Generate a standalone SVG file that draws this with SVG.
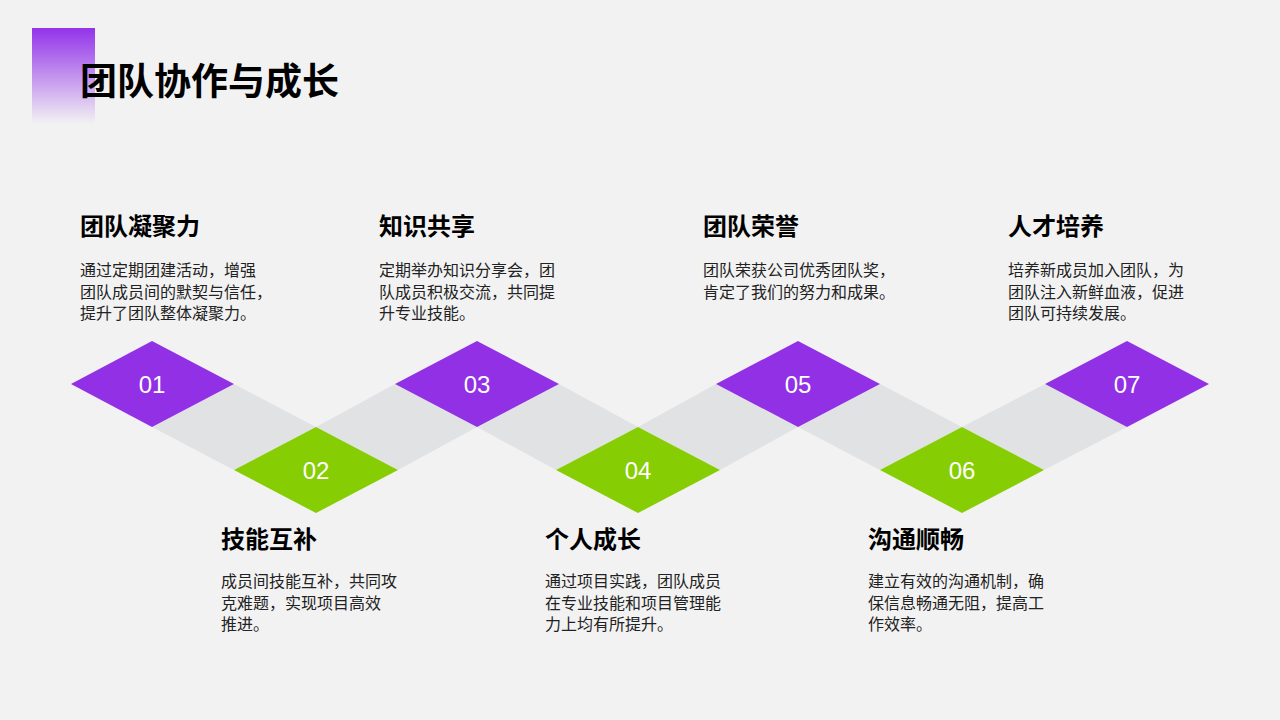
<svg xmlns="http://www.w3.org/2000/svg" width="1280" height="720" viewBox="0 0 1280 720">
  <defs>
    <linearGradient id="accent" x1="0" y1="0" x2="0" y2="1">
      <stop offset="0" stop-color="#9333EA" stop-opacity="1"/>
      <stop offset="1" stop-color="#9333EA" stop-opacity="0"/>
    </linearGradient>
    <style>
      .t { font-family: "Noto Sans CJK SC", "Noto Sans", sans-serif; font-weight: 700; font-size: 24px; fill: #000; }
      .b { font-family: "Noto Sans CJK SC", "Noto Sans", sans-serif; font-size: 16px; fill: #222; }
      .n { font-family: "Liberation Sans", Arial, sans-serif; font-size: 24px; fill: #fff; text-anchor: middle; }
      .p { fill: #9230E6; }
      .g { fill: #86CE03; }
      .c { fill: #E1E2E4; }
    </style>
  </defs>
  <rect width="1280" height="720" fill="#F2F2F2"/>
  <rect x="32" y="28" width="63" height="96" fill="url(#accent)"/>
  <text x="80" y="95" font-family="Noto Sans CJK SC, Noto Sans, sans-serif" font-weight="700" font-size="37" fill="#000">团队协作与成长</text>

  <g id="connectors">
    <polygon class="c" points="152,427 234,384 316,427 234,470"/>
    <polygon class="c" points="316,427 395,384 477,427 398,470"/>
    <polygon class="c" points="477,427 559,384 638,427 556,470"/>
    <polygon class="c" points="638,427 716,384 798,427 720,470"/>
    <polygon class="c" points="798,427 880,384 962,427 880,470"/>
    <polygon class="c" points="962,427 1045,384 1127,427 1044,470"/>
  </g>

  <g id="node1">
    <polygon class="p" points="71,384 152,341 234,384 152,427"/>
    <text class="n" x="152" y="393">01</text>
    <text class="t" x="80" y="235">团队凝聚力</text>
    <text class="b" x="80" y="276">通过定期团建活动，增强</text>
    <text class="b" x="80" y="297.5">团队成员间的默契与信任，</text>
    <text class="b" x="80" y="319">提升了团队整体凝聚力。</text>
  </g>
  <g id="node2">
    <polygon class="g" points="234,470 316,427 398,470 316,513"/>
    <text class="n" x="316" y="479">02</text>
    <text class="t" x="221" y="548">技能互补</text>
    <text class="b" x="221" y="587">成员间技能互补，共同攻</text>
    <text class="b" x="221" y="608.5">克难题，实现项目高效</text>
    <text class="b" x="221" y="630">推进。</text>
  </g>
  <g id="node3">
    <polygon class="p" points="395,384 477,341 559,384 477,427"/>
    <text class="n" x="477" y="393">03</text>
    <text class="t" x="379" y="235">知识共享</text>
    <text class="b" x="379" y="276">定期举办知识分享会，团</text>
    <text class="b" x="379" y="297.5">队成员积极交流，共同提</text>
    <text class="b" x="379" y="319">升专业技能。</text>
  </g>
  <g id="node4">
    <polygon class="g" points="556,470 638,427 720,470 638,513"/>
    <text class="n" x="638" y="479">04</text>
    <text class="t" x="545" y="548">个人成长</text>
    <text class="b" x="545" y="587">通过项目实践，团队成员</text>
    <text class="b" x="545" y="608.5">在专业技能和项目管理能</text>
    <text class="b" x="545" y="630">力上均有所提升。</text>
  </g>
  <g id="node5">
    <polygon class="p" points="716,384 798,341 880,384 798,427"/>
    <text class="n" x="798" y="393">05</text>
    <text class="t" x="703" y="235">团队荣誉</text>
    <text class="b" x="703" y="276">团队荣获公司优秀团队奖，</text>
    <text class="b" x="703" y="297.5">肯定了我们的努力和成果。</text>
  </g>
  <g id="node6">
    <polygon class="g" points="880,470 962,427 1044,470 962,513"/>
    <text class="n" x="962" y="479">06</text>
    <text class="t" x="868" y="548">沟通顺畅</text>
    <text class="b" x="868" y="587">建立有效的沟通机制，确</text>
    <text class="b" x="868" y="608.5">保信息畅通无阻，提高工</text>
    <text class="b" x="868" y="630">作效率。</text>
  </g>
  <g id="node7">
    <polygon class="p" points="1045,384 1127,341 1209,384 1127,427"/>
    <text class="n" x="1127" y="393">07</text>
    <text class="t" x="1008" y="235">人才培养</text>
    <text class="b" x="1008" y="276">培养新成员加入团队，为</text>
    <text class="b" x="1008" y="297.5">团队注入新鲜血液，促进</text>
    <text class="b" x="1008" y="319">团队可持续发展。</text>
  </g>
</svg>
